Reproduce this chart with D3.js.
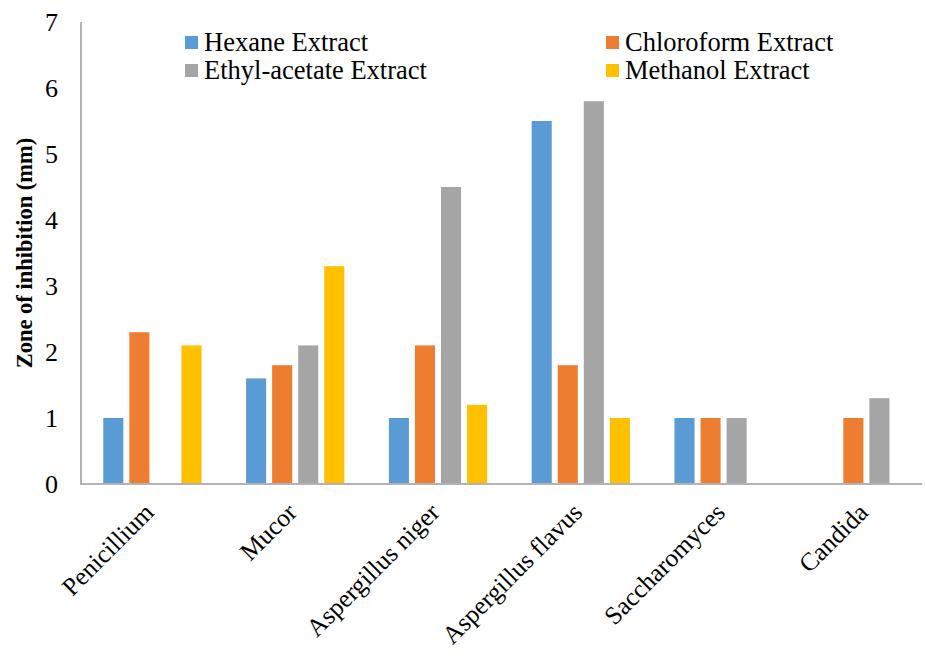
<!DOCTYPE html>
<html>
<head>
<meta charset="utf-8">
<script src="https://cdn.jsdelivr.net/npm/d3@7"></script>
<style>
  body { margin: 0; background: #fff; }
  svg text { font-family: "Liberation Serif", "DejaVu Serif", serif; fill: #000; }
</style>
</head>
<body>
<div id="chart"></div>
<script>
// fungi tested
const categories = ["Penicillium", "Mucor", "Aspergillus niger", "Aspergillus flavus", "Saccharomyces", "Candida"];
const seriesNames = ["Hexane Extract", "Chloroform Extract", "Ethyl-acetate Extract", "Methanol Extract"];
const hexane = [1, 1.6, 1, 5.5, 1, 0];
const chloroform = [2.3, 1.8, 2.1, 1.8, 1, 1];
const ethylAcetate = [0, 2.1, 4.5, 5.8, 1, 1.3];
const methanol = [2.1, 3.3, 1.2, 1, 0, 0];
const yTicks = [0, 1, 2, 3, 4, 5, 6, 7];
const colors = ["#5B9BD5", "#ED7D31", "#A5A5A5", "#FFC000"];

const width = 925, height = 656;
const margin = {top: 22, right: 3, bottom: 172, left: 81};
const values = [hexane, chloroform, ethylAcetate, methanol];

const svg = d3.select("#chart").append("svg")
    .attr("width", width)
    .attr("height", height)
    .attr("font-family", "Liberation Serif, serif");

// plot area runs a bit past the visible right edge of the axis
const x0 = d3.scaleBand()
    .domain(categories)
    .range([margin.left, margin.left + 6 * 142.8])
    .paddingInner(0.27)
    .paddingOuter(0.135);

const x1 = d3.scaleBand()
    .domain(seriesNames)
    .range([0, x0.bandwidth()])
    .paddingInner(0.23)
    .paddingOuter(0.115);

const y = d3.scaleLinear()
    .domain([0, 7])
    .range([height - margin.bottom, margin.top]);

// bars
const groups = svg.append("g").selectAll("g")
    .data(categories)
    .join("g")
    .attr("transform", d => "translate(" + x0(d) + ",0)");

groups.selectAll("rect")
    .data((c, i) => seriesNames.map((s, k) => ({series: s, value: values[k][i], k: k})))
    .join("rect")
    .attr("x", d => x1(d.series))
    .attr("width", x1.bandwidth())
    .attr("y", d => y(d.value))
    .attr("height", d => y(0) - y(d.value))
    .attr("fill", d => colors[d.k]);

// axes lines
svg.append("line")
    .attr("x1", margin.left).attr("x2", margin.left)
    .attr("y1", y(7)).attr("y2", y(0))
    .attr("stroke", "#b3b3b3").attr("stroke-width", 2);

svg.append("line")
    .attr("x1", margin.left - 1).attr("x2", width - margin.right)
    .attr("y1", y(0)).attr("y2", y(0))
    .attr("stroke", "#b3b3b3").attr("stroke-width", 2);

// y tick labels
svg.append("g").selectAll("text")
    .data(yTicks)
    .join("text")
    .attr("x", 58)
    .attr("y", d => y(d))
    .attr("dy", "0.35em")
    .attr("text-anchor", "end")
    .style("font-size", "26px")
    .text(d => d);

// y title
svg.append("text")
    .attr("transform", "translate(32," + ((y(0) + y(7)) / 2) + ") rotate(-90)")
    .attr("text-anchor", "middle")
    .style("font-size", "22.5px")
    .style("font-weight", "bold")
    .text("Zone of inhibition (mm)");

// category labels
svg.append("g").selectAll("text")
    .data(categories)
    .join("text")
    .attr("transform", d => "translate(" + (x0(d) + x0.bandwidth() / 2 + 3) + "," + (y(0) + 30) + ") rotate(-45)")
    .attr("text-anchor", "end")
    .style("font-size", "25.5px")
    .text(d => d);

// legend
const legendPos = [[185, 42], [606, 42], [185, 70], [606, 70]];
const legend = svg.append("g").selectAll("g")
    .data(seriesNames)
    .join("g")
    .attr("transform", (d, i) => "translate(" + legendPos[i][0] + "," + legendPos[i][1] + ")");

legend.append("rect")
    .attr("x", 0).attr("y", -6)
    .attr("width", 13).attr("height", 13)
    .attr("fill", (d, i) => colors[i]);

legend.append("text")
    .attr("x", 19)
    .attr("dy", "0.35em")
    .style("font-size", "26.5px")
    .text(d => d);
</script>
</body>
</html>
